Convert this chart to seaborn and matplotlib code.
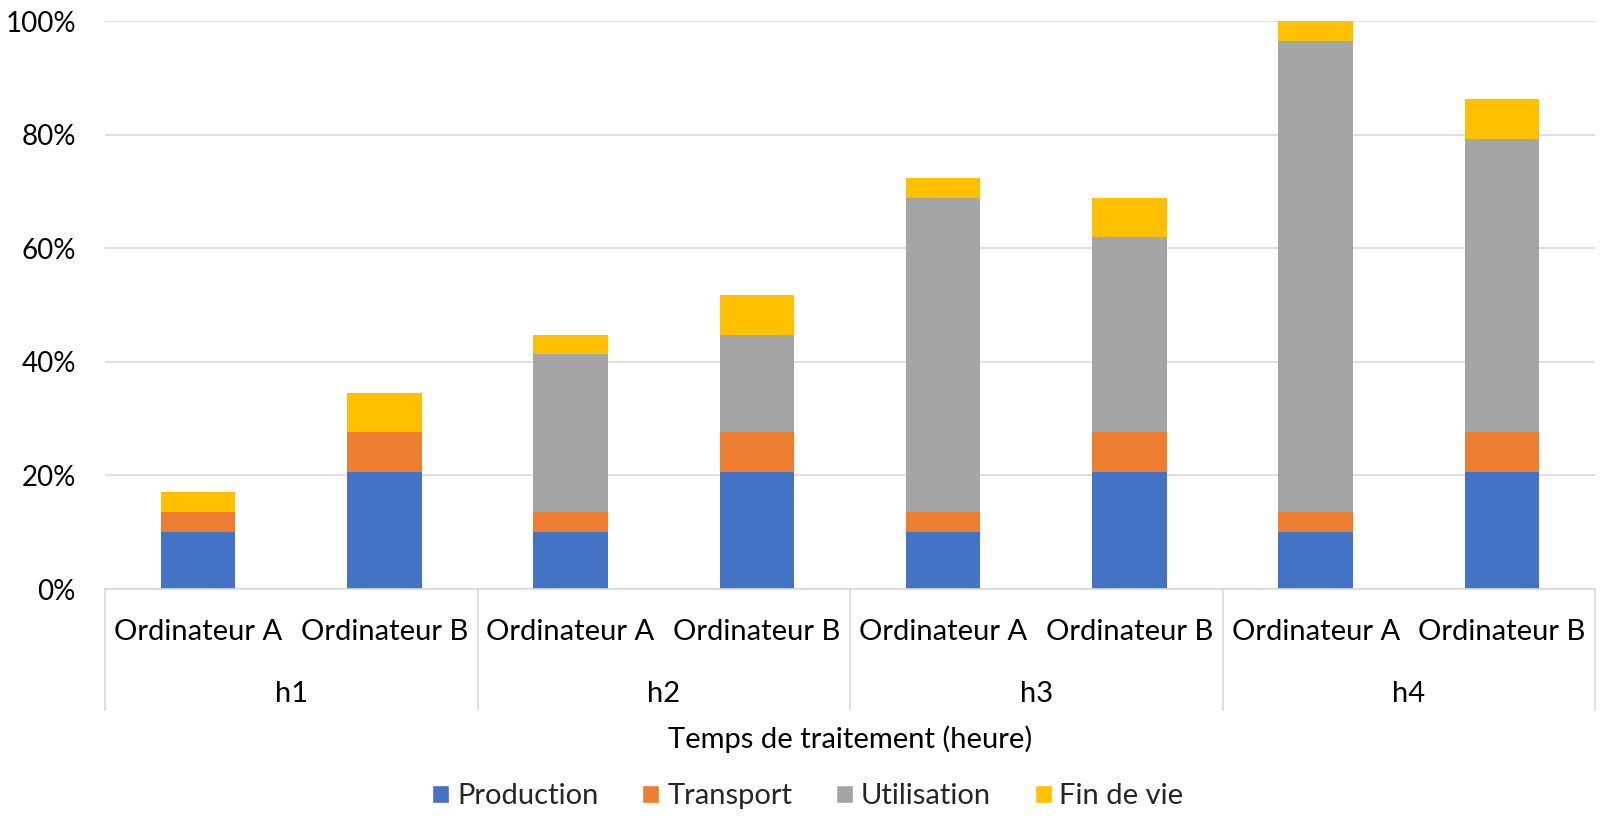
import matplotlib
matplotlib.use("Agg")
import matplotlib.pyplot as plt
import pandas as pd
import seaborn as sns
from matplotlib.patches import Patch
from matplotlib.ticker import MultipleLocator, PercentFormatter

HEURES = ["h1", "h2", "h3", "h4"]
ORDINATEURS = ["Ordinateur A", "Ordinateur B"]
COMPOSANTS = ["Production", "Transport", "Utilisation", "Fin de vie"]
# valeurs en %, une par barre : h1 A, h1 B, h2 A, h2 B, ...
PRODUCTION = [10.1, 20.6, 10.1, 20.6, 10.1, 20.6, 10.1, 20.6]
TRANSPORT = [3.5, 7.0, 3.5, 7.0, 3.5, 7.0, 3.5, 7.0]
UTILISATION = [0.0, 0.0, 27.7, 17.2, 55.2, 34.4, 82.9, 51.7]
FIN_DE_VIE = [3.5, 6.9, 3.5, 6.9, 3.5, 6.9, 3.5, 6.9]

COULEURS = ["#4472C4", "#ED7D31", "#A5A5A5", "#FFC000"]
GRIS = "#D9D9D9"
TAILLE = 21

sns.set_style("white")
plt.rcParams["font.family"] = ["Lato", "DejaVu Sans"]

barres = [f"{h} {o}" for h in HEURES for o in ORDINATEURS]
df = pd.DataFrame({
    "Production": PRODUCTION,
    "Transport": TRANSPORT,
    "Utilisation": UTILISATION,
    "Fin de vie": FIN_DE_VIE,
})
cumul = df[COMPOSANTS].cumsum(axis=1)
cumul["barre"] = barres

fig = plt.figure(figsize=(16, 8.21), dpi=100)
ax = fig.add_axes([105 / 1600, 1 - 589 / 821, 1490 / 1600, 568 / 821])

# empilement : on dessine du sommet vers la base
for comp, couleur in reversed(list(zip(COMPOSANTS, COULEURS))):
    sns.barplot(data=cumul, x="barre", y=comp, order=barres, color=couleur,
                saturation=1, width=0.4, errorbar=None, linewidth=0, ax=ax)

ax.set_xlim(-0.5, len(barres) - 0.5)
ax.set_ylim(0, 100)
ax.yaxis.set_major_locator(MultipleLocator(20))
ax.yaxis.set_major_formatter(PercentFormatter(100, decimals=0))
ax.grid(axis="y", color=GRIS, linewidth=1.2)
ax.set_axisbelow(True)
for cote in ["left", "right", "top"]:
    ax.spines[cote].set_visible(False)
ax.spines["bottom"].set_color(GRIS)
ax.spines["bottom"].set_linewidth(1.2)
ax.tick_params(axis="y", length=0, pad=21, labelsize=20, labelcolor="black")
ax.set_xticks([])
ax.set_xlabel("")
ax.set_ylabel("")

# axe des x à deux niveaux
trans = ax.get_xaxis_transform()
for i, barre in enumerate(barres):
    ax.text(i, -51 / 568, ORDINATEURS[i % 2], transform=trans, ha="center",
            va="baseline", fontsize=TAILLE, color="black")
for j, h in enumerate(HEURES):
    ax.text(2 * j + 0.5, -113 / 568, h, transform=trans, ha="center",
            va="baseline", fontsize=TAILLE, color="black")
for x in [-0.5, 1.5, 3.5, 5.5, 7.5]:
    ax.plot([x, x], [0, -121 / 568], transform=trans, color=GRIS,
            linewidth=1.2, clip_on=False)
ax.text(3.5, -159 / 568, "Temps de traitement (heure)", transform=trans,
        ha="center", va="baseline", fontsize=TAILLE, color="black")

poignees = [Patch(facecolor=c, label=l) for l, c in zip(COMPOSANTS, COULEURS)]
fig.legend(handles=poignees, loc="center", bbox_to_anchor=(0.505, 1 - 796 / 821),
           ncol=4, frameon=False, fontsize=TAILLE, handlelength=0.58,
           handleheight=0.58, handletextpad=0.27, columnspacing=1.5)

fig.savefig("out.png", dpi=100)
